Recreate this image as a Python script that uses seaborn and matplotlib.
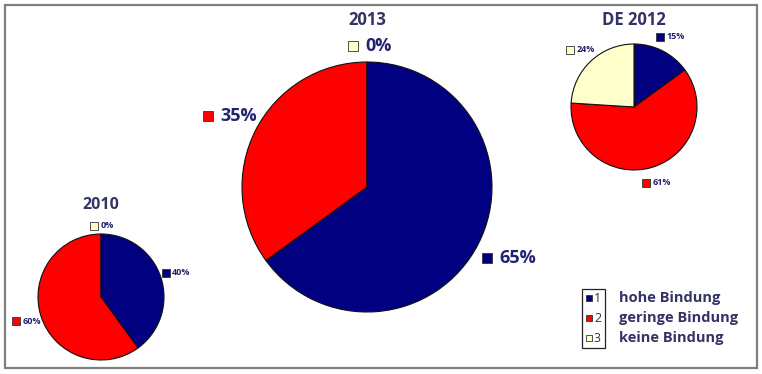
import numpy as np
import matplotlib
matplotlib.use("Agg")
import matplotlib.pyplot as plt
from matplotlib.patches import Rectangle
import seaborn as sns

sns.set_theme(style="white")
plt.rcParams['font.family'] = ['Open Sans', 'DejaVu Sans']

# ---- data ----
categories = ["hohe Bindung", "geringe Bindung", "keine Bindung"]
category_ids = ["1", "2", "3"]
titles = ["2010", "2013", "DE 2012"]
values_2010 = [40, 60, 0]
values_2013 = [65, 35, 0]
values_de2012 = [15, 61, 24]
colors = ["#000080", "#FF0000", "#FFFFCC"]

W, H = 762, 374
fig = plt.figure(figsize=(W / 100, H / 100), dpi=100)
ax = fig.add_axes([0, 0, 1, 1])

title_color = "#333366"
label_color = "#22226E"

# layout: (values, title, center x, center y (from top), radius, title y, label fontsize, title fontsize)
pies = [
    (values_2010, titles[0], 101, 297, 63, 205, 6.5, 11.5),
    (values_2013, titles[1], 367, 187, 125, 20, 13, 12),
    (values_de2012, titles[2], 634, 107, 63, 20, 6.5, 12),
]

for vals, title, cx, cy, r, ty, lfs, tfs in pies:
    cyd = H - cy
    wedges, _ = ax.pie(vals, colors=colors, startangle=90, counterclock=False,
                       center=(cx, cyd), radius=r, frame=True,
                       wedgeprops=dict(edgecolor="#111111", linewidth=0.8))
    ax.text(cx, H - ty, title, ha="center", va="center", fontsize=tfs,
            fontweight="bold", color=title_color)
    total = sum(vals)
    start = 90.0
    for v, c in zip(vals, colors):
        sweep = 360.0 * v / total
        mid = np.deg2rad(start - sweep / 2)
        start -= sweep
        dist = 1.25 if v > 0 else 1.13
        lx = cx + dist * r * np.cos(mid)
        ly = cyd + dist * r * np.sin(mid)
        txt = f"{v}%"
        msz = 2.2 * lfs
        gap = 0.4 * lfs
        tw = 0.62 * lfs * len(txt) * 1.39
        total_w = msz * 0.5 + gap + tw
        x0 = lx - total_w / 2
        ax.scatter([x0 + msz * 0.25], [ly], marker="s", s=msz * 1.8,
                   facecolor=c, edgecolor="#333333", linewidth=0.6, zorder=5)
        ax.text(x0 + msz * 0.5 + gap, ly, txt, ha="left", va="center",
                fontsize=lfs, fontweight="bold", color=label_color)

# legend
ax.add_patch(Rectangle((582, H - 348), 23, 59, facecolor="white",
                       edgecolor="#222222", linewidth=0.9))
for i, (cat, cid, c) in enumerate(zip(categories, category_ids, colors)):
    y = H - (298 + 20 * i)
    ax.scatter([589], [y], marker="s", s=22, facecolor=c, edgecolor="#333333",
               linewidth=0.6, zorder=5)
    ax.text(594, y, cid, ha="left", va="center", fontsize=9, color="#333344")
    ax.text(619, y, cat, ha="left", va="center", fontsize=10.5,
            fontweight="bold", color=title_color)

# frame
ax.add_patch(Rectangle((5, H - 368), 752, 363, facecolor="none",
                       edgecolor="#7f7f7f", linewidth=1.6))

ax.set_xlim(0, W)
ax.set_ylim(0, H)
ax.set_aspect("auto")
ax.set_position([0, 0, 1, 1])
ax.axis("off")

fig.savefig("out.png", dpi=100)
